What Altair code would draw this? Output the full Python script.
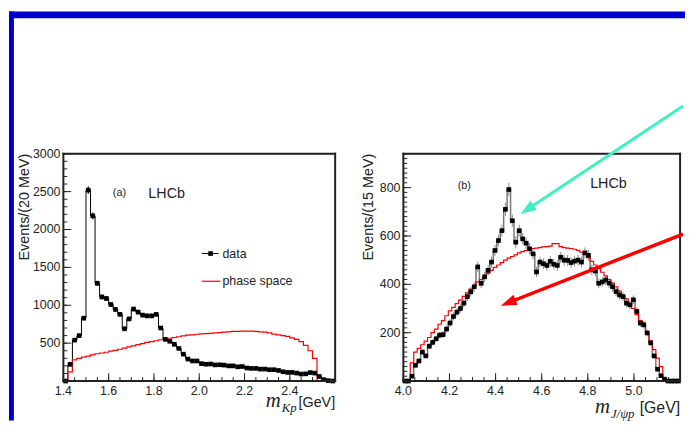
import altair as alt
import pandas as pd

# ---------------- data ----------------
# (a) m_Kp, 20 MeV bins starting at 1.40 GeV
kp_start, kp_width = 1.40, 0.02
kp_data = [0, 220, 540, 600, 830, 2520, 2180, 1290, 1110, 1090,
           1010, 945, 880, 690, 820, 950, 910, 870, 860, 860,
           880, 700, 550, 525, 485, 430, 355, 290, 265, 265,
           230, 222, 225, 213, 215, 210, 200, 200, 188, 192,
           172, 167, 167, 158, 158, 150, 150, 140, 123, 114,
           114, 105, 92, 95, 112, 105, 60, 18, 5, 0]
kp_phsp = [0, 120, 280, 300, 315, 330, 345, 360, 370, 380,
           395, 405, 420, 435, 450, 465, 480, 495, 510, 520,
           532, 545, 555, 565, 575, 585, 595, 605, 610, 618,
           622, 625, 630, 635, 640, 645, 650, 655, 655, 660,
           660, 660, 655, 650, 645, 635, 620, 610, 600, 590,
           570, 550, 520, 470, 400, 300, 0, 0, 0, 0]

# (b) m_J/psi p, 15 MeV bins starting at 4.00 GeV
jp_start, jp_width = 4.00, 0.015
jp_data = [0, 0, 20, 65, 83, 120, 104, 144, 160, 175,
           190, 192, 215, 240, 267, 285, 300, 322, 349, 369,
           390, 472, 404, 431, 458, 492, 540, 581, 622, 710,
           792, 663, 574, 622, 588, 570, 547, 526, 451, 492,
           485, 478, 495, 483, 478, 512, 500, 499, 490, 496,
           500, 492, 530, 520, 460, 455, 404, 410, 418, 405,
           390, 370, 356, 349, 322, 315, 336, 288, 240, 233,
           199, 158, 104, 49, 22, 8, 0, 0, 0, 0]
jp_phsp = [0, 0, 75, 120, 135, 150, 165, 180, 200, 215,
           235, 250, 270, 290, 305, 320, 335, 350, 365, 380,
           395, 410, 420, 432, 445, 458, 470, 480, 490, 500,
           508, 515, 522, 530, 535, 540, 545, 548, 550, 552,
           555, 556, 558, 568, 568, 556, 552, 550, 548, 545,
           540, 533, 525, 510, 495, 480, 465, 450, 435, 420,
           405, 390, 372, 355, 340, 320, 300, 275, 250, 225,
           195, 165, 130, 95, 60, 10, 0, 0, 0, 0]

# axis tick labels
kp_x_labels = [1.4, 1.6, 1.8, 2.0, 2.2, 2.4]
kp_y_labels = [500, 1000, 1500, 2000, 2500, 3000]
jp_x_labels = [4.0, 4.2, 4.4, 4.6, 4.8, 5.0]
jp_y_labels = [200, 400, 600, 800]

# arrows drawn on panel (b), in its data coordinates: [tail, tip]
teal_arrow_x = [5.213, 4.508]
teal_arrow_y = [1137, 691]
red_arrow_x = [5.213, 4.423]
red_arrow_y = [608, 312]

FONT = "Liberation Sans"
SERIF = "Liberation Serif"
INK = "#222222"
ONE = alt.Data(values=[{"k": 1}])


def steps(start, step, n):
    return [round(start + step * i, 5) for i in range(n)]


def txt(text, x, y, size, font=FONT, align="left", baseline="middle",
        style="normal", color=INK, angle=0):
    return alt.Chart(ONE).mark_text(
        text=text, font=font, fontSize=size, align=align, baseline=baseline,
        fontStyle=style, color=color, angle=angle
    ).encode(x=alt.value(x), y=alt.value(y))


def bar(x0, x1, y0, y1, color):
    return alt.Chart(ONE).mark_rect(color=color, clip=False).encode(
        x=alt.value(x0), x2=alt.value(x1), y=alt.value(y0), y2=alt.value(y1))


def frame_layers(W, H):
    fc = "#222222"
    return [
        bar(-1, W + 1, -1, 1, fc),
        bar(-1, W + 1, H - 1, H + 1, fc),
        bar(-1, 1, -1, H + 1, fc),
        bar(W - 1, W + 1, -1, H + 1, fc),
    ]


def panel(start, width, data, phsp, xdom, ydom, W, H, xlab, ylab,
          ymin_step, ytitle, ytitle_x, line_color, line_w, err_color):
    n = len(data)
    lo = steps(start, width, n)
    ctr = [round(v + width / 2, 5) for v in lo]
    edges = lo + [round(start + width * n, 5)]
    pts = pd.DataFrame({"x": ctr, "y": data})
    step_d = pd.DataFrame({"x": edges, "y": data + [data[-1]]})
    step_p = pd.DataFrame({"x": edges, "y": phsp + [phsp[-1]]})

    xs = alt.Scale(domain=xdom, nice=False, zero=False)
    ys = alt.Scale(domain=ydom, nice=False, zero=False)

    X = lambda f="x": alt.X(f"{f}:Q", scale=xs, axis=None)
    Y = lambda f="y": alt.Y(f"{f}:Q", scale=ys, axis=None)

    base = alt.Chart(step_d).mark_line(
        interpolate="step-after", color=line_color, strokeWidth=line_w
    ).encode(x=X(), y=Y())
    err = alt.Chart(pts).transform_calculate(
        lo="datum.y - sqrt(datum.y)", hi="datum.y + sqrt(datum.y)"
    ).mark_rule(color=err_color, strokeWidth=1).encode(
        x=X(), y=Y("lo"), y2="hi:Q")
    red = alt.Chart(step_p).mark_line(
        interpolate="step-after", color="#ff0000", strokeWidth=1.2
    ).encode(x=X(), y=Y())
    sq = alt.Chart(pts).mark_square(size=22, color="black", opacity=1).encode(
        x=X(), y=Y())

    # inward ROOT-style ticks
    xmin = pd.DataFrame({"t": steps(xdom[0], 0.05, int(round((xdom[1] - xdom[0]) / 0.05)) + 1)})
    ymin = pd.DataFrame({"t": steps(0, ymin_step, int(ydom[1] // ymin_step) + 1)})
    xmaj = pd.DataFrame({"t": xlab, "s": [f"{v:.1f}" for v in xlab]})
    ymaj = pd.DataFrame({"t": ylab, "s": [str(v) for v in ylab]})
    tk = dict(color=INK, strokeWidth=1)
    t1 = alt.Chart(xmin).mark_rule(**tk).encode(x=X("t"), y=alt.value(H), y2=alt.value(H - 4))
    t2 = alt.Chart(xmaj).mark_rule(**tk).encode(x=X("t"), y=alt.value(H), y2=alt.value(H - 8))
    t3 = alt.Chart(ymin).mark_rule(**tk).encode(y=Y("t"), x=alt.value(0), x2=alt.value(4))
    t4 = alt.Chart(ymaj).mark_rule(**tk).encode(y=Y("t"), x=alt.value(0), x2=alt.value(8))
    # tick labels through the scales
    xl = alt.Chart(xmaj).mark_text(font=FONT, fontSize=12.5, color=INK,
                                   align="center", baseline="top").encode(
        x=X("t"), y=alt.value(H + 4), text="s:N")
    yl = alt.Chart(ymaj).mark_text(font=FONT, fontSize=12.5, color=INK,
                                   align="right", baseline="middle").encode(
        y=Y("t"), x=alt.value(-3), text="s:N")
    yt = txt(ytitle, ytitle_x, 0, 14.5, align="right", baseline="alphabetic", angle=270)
    return [base, err, red, sq, t1, t2, t3, t4, xl, yl, yt], X, Y


# ---------------- panel (a) ----------------
WA, HA = 275, 230
la, XA, YA = panel(kp_start, kp_width, kp_data, kp_phsp, [1.4, 2.6], [0, 3000],
                   WA, HA, kp_x_labels, kp_y_labels, 100,
                   "Events/(20 MeV)", -35, "#000000", 1, "#000000")
blue = "#0000cc"
stripe_top = bar(-55, 629, -144, -137, blue)
stripe_left = bar(-55, -50, -144, 270, blue)
leg = [
    alt.Chart(ONE).mark_rule(color="black", strokeWidth=1).encode(
        x=alt.value(140), x2=alt.value(157), y=alt.value(101)),
    alt.Chart(ONE).mark_square(size=22, color="black", opacity=1).encode(
        x=alt.value(149), y=alt.value(101)),
    txt("data", 161, 101, 12.5),
    alt.Chart(ONE).mark_rule(color="#ff0000", strokeWidth=1.2).encode(
        x=alt.value(140), x2=alt.value(159), y=alt.value(129)),
    txt("phase space", 161, 129, 12.5),
]
anno_a = [
    txt("(a)", 50, 40, 11),
    txt("LHCb", 86, 41, 14.5),
    txt("m", 220, 256, 21, font=SERIF, align="right", baseline="alphabetic", style="italic"),
    txt("Kp", 221, 261, 13, font=SERIF, align="left", baseline="alphabetic", style="italic"),
    txt("[GeV]", 275, 256, 14.5, align="right", baseline="alphabetic"),
]
panel_a = alt.layer(*la, *leg, *anno_a, stripe_top, stripe_left,
                    *frame_layers(WA, HA)).properties(width=WA, height=HA)

# ---------------- panel (b) ----------------
WB, HB = 280, 230
lb, XB, YB = panel(jp_start, jp_width, jp_data, jp_phsp, [4.0, 5.2], [0, 940],
                   WB, HB, jp_x_labels, jp_y_labels, 20,
                   "Events/(15 MeV)", -31, "#777777", 1.5, "#888888")

head = "M0,-1L0.7,1L-0.7,1Z"


def arrow(xs_, ys_, color, width, angle, bx, by):
    d = pd.DataFrame({"x": [xs_[0]], "y": [ys_[0]], "x2": [xs_[1]], "y2": [ys_[1]]})
    shaft = alt.Chart(d).mark_rule(color=color, strokeWidth=width,
                                   x2Offset=bx, y2Offset=by).encode(
        x=XB("x"), y=YB("y"), x2="x2:Q", y2="y2:Q")
    tip = alt.Chart(d).mark_point(shape=head, size=256, angle=angle, filled=True,
                                  color=color, opacity=1, strokeWidth=0,
                                  xOffset=bx, yOffset=by).encode(
        x=XB("x2"), y=YB("y2"))
    return [shaft, tip]


arrows = arrow(teal_arrow_x, teal_arrow_y, "#40f0c4", 3, 236.4, 6.7, -4.4) + \
    arrow(red_arrow_x, red_arrow_y, "#ff0000", 3.5, 248.5, 7.4, -2.9)

anno_b = [
    txt("(b)", 55, 33, 11),
    txt("LHCb", 189, 31, 14.5),
    txt("m", 209, 262, 21, font=SERIF, align="right", baseline="alphabetic", style="italic"),
    txt("J/\u03c8p", 210, 267, 13, font=SERIF, align="left", baseline="alphabetic", style="italic"),
    txt("[GeV]", 280, 262, 16, align="right", baseline="alphabetic"),
]
panel_b = alt.layer(*lb, *anno_b, *frame_layers(WB, HB), *arrows).properties(width=WB, height=HB)

chart = alt.hconcat(panel_a, panel_b, spacing=69, bounds="flush").properties(
    padding=0
).configure_view(stroke="#222222", strokeWidth=1.5).configure(font=FONT)

chart.save("out.html", embed_options={"renderer": "svg", "actions": False})
